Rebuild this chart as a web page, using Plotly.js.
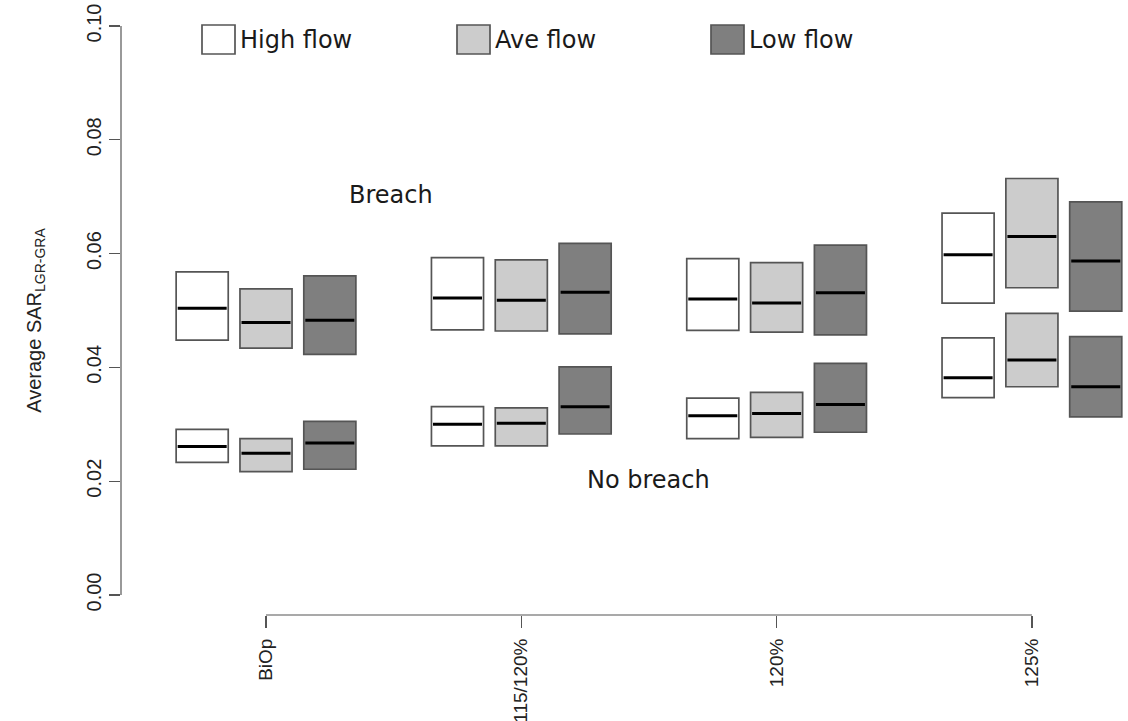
<!DOCTYPE html>
<html>
<head>
<meta charset="utf-8">
<script src="https://cdn.plot.ly/plotly-3.0.1.min.js"></script>
<style>html,body{margin:0;padding:0;background:#fff;}#chart{width:1128px;height:721px;}</style>
</head>
<body>
<div id="chart"></div>
<script>
// ---- data ----
const categories = ["BiOp", "115/120%", "120%", "125%"];
const catPos = [1, 2, 3, 4];
const yTickVals = [0, 0.02, 0.04, 0.06, 0.08, 0.10];
const yTickText = ["0.00", "0.02", "0.04", "0.06", "0.08", "0.10"];
const flowNames = ["High flow", "Ave flow", "Low flow"];

// Breach scenario: box lower edge, median, upper edge
const highBreachLow = [0.0448, 0.0466, 0.0465, 0.0513];
const highBreachMed = [0.0504, 0.0522, 0.0520, 0.0598];
const highBreachUp  = [0.0568, 0.0593, 0.0591, 0.0671];
const aveBreachLow  = [0.0434, 0.0464, 0.0462, 0.0540];
const aveBreachMed  = [0.0479, 0.0518, 0.0513, 0.0630];
const aveBreachUp   = [0.0538, 0.0589, 0.0584, 0.0732];
const lowBreachLow  = [0.0423, 0.0459, 0.0457, 0.0499];
const lowBreachMed  = [0.0483, 0.0532, 0.0531, 0.0587];
const lowBreachUp   = [0.0561, 0.0618, 0.0615, 0.0691];

// No breach scenario
const highNoBreachLow = [0.0233, 0.0262, 0.0275, 0.0347];
const highNoBreachMed = [0.0261, 0.0300, 0.0315, 0.0382];
const highNoBreachUp  = [0.0291, 0.0331, 0.0346, 0.0452];
const aveNoBreachLow  = [0.0217, 0.0262, 0.0277, 0.0366];
const aveNoBreachMed  = [0.0249, 0.0302, 0.0319, 0.0413];
const aveNoBreachUp   = [0.0275, 0.0329, 0.0356, 0.0495];
const lowNoBreachLow  = [0.0221, 0.0283, 0.0286, 0.0313];
const lowNoBreachMed  = [0.0267, 0.0331, 0.0335, 0.0366];
const lowNoBreachUp   = [0.0305, 0.0401, 0.0407, 0.0454];

// ---- styling ----
const fills = ["#ffffff", "#cccccc", "#7f7f7f"];
const edge = "#555555";
const boxW = 0.204;
const centerShift = [-0.25, 0, 0.25];

const series = [
  {low: highBreachLow, med: highBreachMed, up: highBreachUp, nbLow: highNoBreachLow, nbMed: highNoBreachMed, nbUp: highNoBreachUp},
  {low: aveBreachLow,  med: aveBreachMed,  up: aveBreachUp,  nbLow: aveNoBreachLow,  nbMed: aveNoBreachMed,  nbUp: aveNoBreachUp},
  {low: lowBreachLow,  med: lowBreachMed,  up: lowBreachUp,  nbLow: lowNoBreachLow,  nbMed: lowNoBreachMed,  nbUp: lowNoBreachUp}
];

const traces = [];
series.forEach((s, i) => {
  const off = centerShift[i] - boxW / 2;
  [[s.low, s.up], [s.nbLow, s.nbUp]].forEach(([lo, hi]) => {
    traces.push({
      type: "bar", x: catPos, base: lo, y: hi.map((v, k) => v - lo[k]),
      width: boxW, offset: off,
      marker: {color: fills[i], line: {color: edge, width: 1.7}},
      name: flowNames[i], showlegend: false, hoverinfo: "skip"
    });
  });
  // median lines
  const mx = [], my = [];
  [s.med, s.nbMed].forEach(m => {
    catPos.forEach((c, k) => {
      mx.push(c + off + 0.006, c + off + boxW - 0.006, null);
      my.push(m[k], m[k], null);
    });
  });
  traces.push({type: "scatter", mode: "lines", x: mx, y: my,
    line: {color: "#000000", width: 3}, showlegend: false, hoverinfo: "skip"});
});

// ---- custom legend (pixel-like placement in paper coordinates) ----
const L = 121, T = 26, W = 1005, H = 589;
const px = v => (v - L) / W;
const py = v => (T + H - v) / H;
const legBoxX = [202, 457, 711];
const shapes = [];
const annotations = [];
const labelFont = {family: "DejaVu Sans, Arial, sans-serif", size: 24, color: "#1a1a1a"};
legBoxX.forEach((bx, i) => {
  shapes.push({type: "rect", xref: "paper", yref: "paper",
    x0: px(bx), x1: px(bx + 33), y0: py(54), y1: py(25),
    fillcolor: fills[i], line: {color: edge, width: 1.7}});
  annotations.push({xref: "paper", yref: "paper", x: px(bx + 36), y: py(40),
    xanchor: "left", yanchor: "middle", showarrow: false, text: flowNames[i],
    font: labelFont});
});
annotations.push({x: 1.49, y: 0.0703, xref: "x", yref: "y", showarrow: false, text: "Breach",
  font: labelFont});
annotations.push({x: 2.5, y: 0.0202, xref: "x", yref: "y", showarrow: false, text: "No breach",
  font: labelFont});

// axis lines (R style: only between the extreme ticks)
shapes.push({type: "line", xref: "paper", yref: "y", x0: 0, x1: 0, y0: 0, y1: 0.10,
  line: {color: "#555555", width: 1.2}});
shapes.push({type: "line", xref: "x", yref: "paper", x0: 1, x1: 4, y0: 0, y1: 0,
  line: {color: "#555555", width: 1.2}});

const layout = {
  width: 1128, height: 721,
  margin: {l: L, r: 2, t: T, b: 721 - T - H, pad: 0},
  paper_bgcolor: "#ffffff", plot_bgcolor: "#ffffff",
  barmode: "overlay", showlegend: false,
  font: {family: "Liberation Sans, Arial, sans-serif", color: "#222222"},
  xaxis: {
    range: [0.432, 0.432 + W / 255.3], showgrid: false, zeroline: false, showline: false,
    tickmode: "array", tickvals: catPos, ticktext: categories, tickangle: -90,
    ticks: "outside", ticklen: 12, tickcolor: "#555555", tickwidth: 1.2,
    tickfont: {size: 19, color: "#222222"}, ticklabelstandoff: 3
  },
  yaxis: {
    range: [-(20 / 5691), 0.10], showgrid: false, zeroline: false, showline: false,
    tickmode: "array", tickvals: yTickVals, ticktext: yTickText, tickangle: -90,
    ticks: "outside", ticklen: 11, tickcolor: "#555555", tickwidth: 1.2,
    tickfont: {size: 20, color: "#222222"}, ticklabelstandoff: 0,
    title: {text: "Average SAR<sub>LGR-GRA</sub>", font: {size: 20, color: "#222222"}, standoff: 36}
  },
  shapes: shapes,
  annotations: annotations
};

Plotly.newPlot("chart", traces, layout, {staticPlot: true, displayModeBar: false});
</script>
</body>
</html>
